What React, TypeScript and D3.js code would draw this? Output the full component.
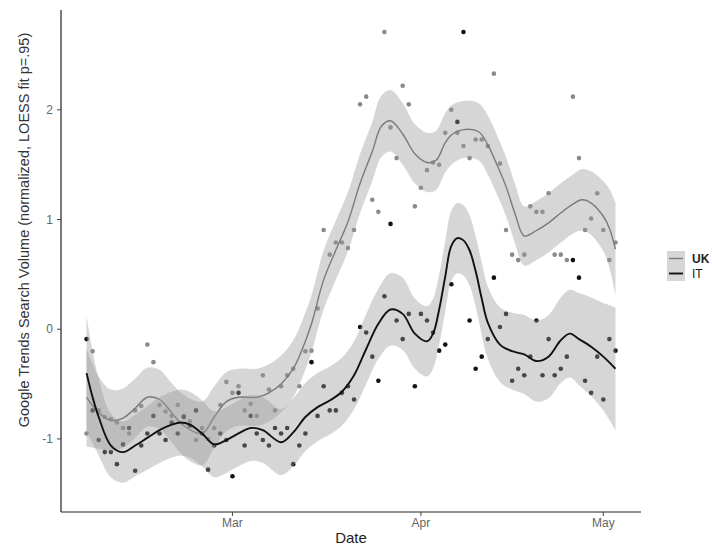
import React from 'react';
import * as d3 from 'd3';

const START = Date.UTC(2020, 1, 6);
const DAY = 86400000;

const seriesNames = ['UK', 'IT'];
const yTicks = [-1, 0, 1, 2];

// daily normalized values, Feb 6 .. May 3
const ukValues = [
  -0.95, -0.2, -0.74, -0.8, -0.82, -0.85, -0.9, -0.95, -0.74, -0.7,
  -0.14, -0.3, -0.69, -0.75, -0.79, -0.69, -0.79, -0.84, -1.01, -0.9,
  -1.0, -0.9, -0.69, -0.48, -0.58, -0.52, -0.74, -0.68, -0.79, -0.42,
  -0.55, -0.74, -0.52, -0.42, -0.36, -0.52, -0.2, -0.195, 0.19, 0.905,
  0.68, 0.79, 0.79, 0.74, 0.905, 2.05, 2.12, 1.18, 1.07, 2.71,
  1.84, 1.56, 2.22, 2.05, 1.12, 1.29, 1.45, 1.52, 1.5, 1.79,
  2.0, 1.79, 1.67, 1.56, 1.73, 1.73, 1.67, 2.33, 1.51, 0.905,
  0.68, 0.63, 0.68, 1.12, 1.07, 1.07, 1.24, 0.68, 0.68, 0.63,
  2.12, 1.56, 0.905, 1.01, 1.24, 0.905, 0.63, 0.79,
];
const itValues = [
  -0.09, -0.74, -1.01, -1.12, -1.12, -1.23, -1.05, -0.9, -1.29, -1.06,
  -0.95, -0.79, -0.95, -1.01, -0.85, -0.95, -0.8, -0.88, -0.74, -0.95,
  -1.28, -1.06, -0.95, -1.01, -1.34, -0.58, -1.06, -0.79, -0.95, -1.01,
  -1.06, -0.9, -0.95, -0.9, -1.23, -1.06, -0.95, -0.3, -0.79, -0.52,
  -0.74, -0.74, -0.58, -0.52, -0.64, 0.02, -0.03, -0.25, -0.47, 0.3,
  0.96, 0.08, -0.09, 0.14, -0.52, 0.14, 0.08, -0.03, -0.195, -0.14,
  0.41, 1.89, 2.71, 0.08, -0.36, -0.25, -0.09, 0.47, 0.02, 0.14,
  -0.47, -0.36, -0.42, -0.25, 0.08, -0.42, -0.09, -0.42, -0.36, -0.25,
  0.63, 0.47, -0.47, -0.58, -0.25, -0.64, -0.09, -0.195,
];

// LOESS fits: day offset, fit, CI half width
const ukFitDay = [0, 2, 4, 6, 8, 10, 12, 14, 16, 19, 21, 23, 25, 28, 30, 32, 34, 35.5, 37, 39, 41, 43, 45, 47, 48.5, 50, 52, 54, 56, 57.5, 59, 60, 62, 64.5, 66, 67.5, 69, 70.5, 72, 74, 76, 78, 80, 81.5, 83, 85, 86, 87];
const ukFitVal = [-0.62, -0.76, -0.83, -0.81, -0.72, -0.62, -0.64, -0.76, -0.88, -0.95, -0.8, -0.66, -0.62, -0.62, -0.58, -0.5, -0.36, -0.18, 0.05, 0.45, 0.72, 0.98, 1.33, 1.62, 1.85, 1.9, 1.78, 1.6, 1.52, 1.54, 1.7, 1.77, 1.82, 1.8, 1.68, 1.5, 1.3, 1.05, 0.85, 0.9, 0.97, 1.06, 1.14, 1.18, 1.15, 1.03, 0.92, 0.73];
const ukFitHw = [0.45, 0.33, 0.28, 0.27, 0.27, 0.27, 0.27, 0.27, 0.28, 0.29, 0.28, 0.27, 0.26, 0.26, 0.26, 0.26, 0.26, 0.26, 0.26, 0.27, 0.27, 0.27, 0.27, 0.27, 0.28, 0.28, 0.28, 0.27, 0.27, 0.27, 0.27, 0.27, 0.26, 0.26, 0.27, 0.27, 0.27, 0.27, 0.27, 0.27, 0.27, 0.27, 0.27, 0.28, 0.29, 0.32, 0.36, 0.42];

const itFitDay = [0, 1, 2, 4, 6, 8, 10, 12, 14, 15.5, 17, 19, 21, 23, 25, 27, 29, 32, 34, 36, 38, 40, 42, 44, 46, 48, 50, 52, 54, 56, 57, 58, 59, 60, 61, 62, 63, 64, 65, 66, 68, 70, 72, 74, 76, 78, 79.5, 81, 83, 85, 87];
const itFitVal = [-0.4, -0.62, -0.8, -1.06, -1.12, -1.06, -0.99, -0.92, -0.87, -0.85, -0.87, -0.95, -1.05, -1.01, -0.95, -0.9, -0.92, -1.03, -0.94, -0.8, -0.71, -0.65, -0.57, -0.42, -0.18, 0.05, 0.18, 0.14, -0.04, -0.11, -0.04, 0.18, 0.48, 0.76, 0.83, 0.81, 0.72, 0.53, 0.28, 0.06, -0.14, -0.2, -0.23, -0.29, -0.25, -0.1, -0.04, -0.09, -0.16, -0.25, -0.36];
const itFitHw = [0.52, 0.42, 0.35, 0.29, 0.28, 0.28, 0.29, 0.3, 0.3, 0.3, 0.3, 0.3, 0.3, 0.3, 0.3, 0.3, 0.3, 0.3, 0.31, 0.31, 0.31, 0.31, 0.31, 0.31, 0.32, 0.32, 0.33, 0.33, 0.32, 0.32, 0.32, 0.32, 0.32, 0.32, 0.32, 0.32, 0.32, 0.32, 0.33, 0.33, 0.34, 0.35, 0.36, 0.37, 0.38, 0.39, 0.4, 0.42, 0.45, 0.49, 0.56];

const FONT = '"Liberation Sans", Arial, Helvetica, sans-serif';

export default function App() {
  const W = 712;
  const H = 546;
  const left = 61, right = 641, top = 10, bottom = 512;
  const date = (d: number) => new Date(START + d * DAY);
  const x = d3.scaleUtc().domain([date(-4.2), date(91.2)]).range([left, right]);
  const y = d3.scaleLinear().domain([-1.666, 2.91]).range([bottom, top]);
  const xTicks = x.ticks(d3.utcMonth.every(1));
  const fmt = d3.utcFormat('%b');

  const series = [
    { name: seriesNames[0], vals: ukValues, fd: ukFitDay, fv: ukFitVal, fh: ukFitHw, dot: '#8a8a8a', line: '#7a7a7a', lw: 1.4 },
    { name: seriesNames[1], vals: itValues, fd: itFitDay, fv: itFitVal, fh: itFitHw, dot: '#111111', line: '#111111', lw: 1.9 },
  ];

  const band = (s: any) =>
    d3.area<number>()
      .x((_, i) => x(date(s.fd[i])))
      .y0((v, i) => y(v - s.fh[i]))
      .y1((v, i) => y(v + s.fh[i]))
      .curve(d3.curveCatmullRom)(s.fv) || '';
  const fitLine = (s: any) =>
    d3.line<number>()
      .x((_, i) => x(date(s.fd[i])))
      .y((v) => y(v))
      .curve(d3.curveCatmullRom)(s.fv) || '';

  return (
    <svg width={W} height={H} style={{ position: 'absolute', left: 0, top: 0, background: '#fff' }} fontFamily={FONT}>
      <rect width={W} height={H} fill="#fff" />
      {series.map((s) => (
        <g key={'pts' + s.name}>
          {s.vals.map((v: number, i: number) => (
            <circle key={i} cx={x(date(i))} cy={y(v)} r={2.3} fill={s.dot} />
          ))}
        </g>
      ))}
      {series.map((s) => (
        <g key={'fit' + s.name}>
          <path d={band(s)} fill="#999999" fillOpacity={0.4} />
          <path d={fitLine(s)} fill="none" stroke={s.line} strokeWidth={s.lw} />
        </g>
      ))}
      {/* axes */}
      <line x1={left} x2={left} y1={top} y2={bottom} stroke="#222" strokeWidth={1.2} />
      <line x1={left} x2={right} y1={bottom} y2={bottom} stroke="#222" strokeWidth={1.2} />
      {yTicks.map((t) => (
        <g key={t}>
          <line x1={left - 4} x2={left} y1={y(t)} y2={y(t)} stroke="#444" />
          <text x={left - 8} y={y(t)} dy="0.35em" textAnchor="end" fontSize={12} fill="#666">{String(t)}</text>
        </g>
      ))}
      {xTicks.map((t) => (
        <g key={t.getTime()}>
          <line x1={x(t)} x2={x(t)} y1={bottom} y2={bottom + 4} stroke="#444" />
          <text x={x(t)} y={bottom + 15} textAnchor="middle" fontSize={12} fill="#666">{fmt(t)}</text>
        </g>
      ))}
      <text x={(left + right) / 2} y={543} textAnchor="middle" fontSize={15} fill="#222">Date</text>
      <text transform={`translate(29,${230}) rotate(-90)`} textAnchor="middle" fontSize={14.5} fill="#333">
        Google Trends Search Volume (normalized, LOESS fit p=.95)
      </text>
      {/* legend */}
      {series.map((s, i) => (
        <g key={'lg' + s.name} transform={`translate(667,${251 + i * 15})`}>
          <rect width={18} height={15} fill="#999999" fillOpacity={0.4} />
          <line x1={2} x2={16} y1={7.5} y2={7.5} stroke={s.line} strokeWidth={s.lw} />
          <text x={25} y={7.5} dy="0.35em" fontSize={12} fill="#222" fontWeight={i === 0 ? 'bold' : 'normal'}>{s.name}</text>
        </g>
      ))}
    </svg>
  );
}
